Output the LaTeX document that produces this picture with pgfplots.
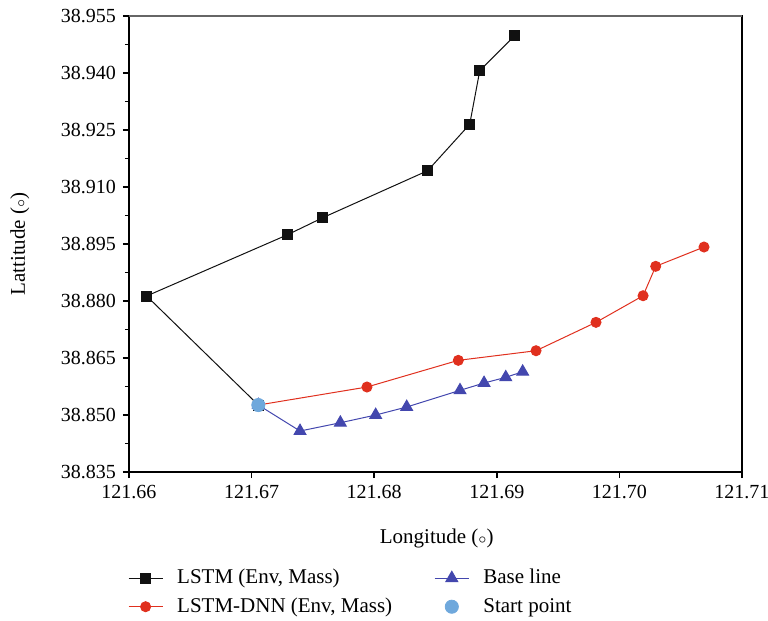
\documentclass[border=0pt]{standalone}
\usepackage{fontspec}
\setmainfont{Liberation Serif}
\usepackage{pgfplots}
\pgfplotsset{compat=1.18}

\definecolor{lstmblack}{HTML}{111111}
\definecolor{dnnred}{HTML}{E0301E}
\definecolor{baseblue}{HTML}{4347AE}
\definecolor{startblue}{HTML}{6FA8DC}

\begin{document}
\begin{tikzpicture}
    \begin{axis}[
        scale only axis,
        width=306.5pt, height=228pt,
        clip=false,
        font=\fontsize{10.5}{12}\selectfont,
        xmin=121.66, xmax=121.71,
        ymin=38.835, ymax=38.955,
        xtick={121.66,121.67,...,121.71},
        ytick={38.835,38.850,...,38.955},
        minor x tick num=1,
        minor y tick num=1,
        tick align=outside,
        major tick length=3pt,
        minor tick length=2pt,
        xtick pos=bottom, ytick pos=left,
        axis line style={black, line width=0.8pt},
        tick style={black, line width=0.7pt},
        ticklabel style={font=\fontsize{10}{12}\selectfont},
        /pgf/number format/assume math mode=true,
        xticklabel style={/pgf/number format/.cd, fixed, fixed zerofill, precision=2},
        yticklabel style={/pgf/number format/.cd, fixed, fixed zerofill, precision=3},
        scaled ticks=false,
        xlabel={Longitude ($\scriptstyle\circ$)},
        ylabel={Lattitude ($\scriptstyle\circ$)},
        xlabel style={at={(axis description cs:0.502,-0.145)}, anchor=center},
        ylabel style={at={(axis description cs:-0.178,0.5)}, anchor=center},
        legend columns=2,
        legend cell align=left,
        legend style={
            draw=none, fill=none,
            at={(axis description cs:-0.012,-0.195)}, anchor=north west,
            font=\fontsize{10.5}{12}\selectfont,
            row sep=1.5pt,
            /tikz/every odd column/.append style={column sep=5pt},
            /tikz/every even column/.append style={column sep=19pt},
        },
    ]
        \addplot[color=lstmblack, line width=0.5pt, mark=square*, mark size=2.5pt,
                 mark options={solid, fill=lstmblack}]
            coordinates {
                (121.67055,38.85263)
                (121.66144,38.88132)
                (121.67294,38.89745)
                (121.67580,38.90192)
                (121.68436,38.91429)
                (121.68779,38.92650)
                (121.68861,38.94061)
                (121.69146,38.94982)
            };
        \addlegendentry{LSTM (Env, Mass)}
        \addplot[color=baseblue, line width=0.5pt, mark=triangle*, mark size=3.4pt,
                 mark options={solid, fill=baseblue}]
            coordinates {
                (121.67055,38.85263)
                (121.67395,38.84579)
                (121.67724,38.84797)
                (121.68012,38.85000)
                (121.68265,38.85211)
                (121.68700,38.85650)
                (121.68896,38.85842)
                (121.69073,38.85992)
                (121.69211,38.86139)
            };
        \addlegendentry{Base line}
        \addplot[color=dnnred, line width=0.5pt, mark=*, mark size=2.5pt,
                 mark options={solid, fill=dnnred}]
            coordinates {
                (121.67055,38.85263)
                (121.67941,38.85737)
                (121.68686,38.86439)
                (121.69320,38.86692)
                (121.69809,38.87439)
                (121.70193,38.88139)
                (121.70296,38.88913)
                (121.70690,38.89421)
            };
        \addlegendentry{LSTM-DNN (Env, Mass)}
        \addplot[only marks, mark=*, mark size=3.3pt, color=startblue,
                 mark options={fill=startblue, draw=startblue}]
            coordinates {(121.67055,38.85263)};
        \addlegendentry{Start point}
        % grey top frame line, as in the original
        \draw[gray!80!black, line width=1.2pt] (rel axis cs:0,1) -- (rel axis cs:1,1);
        % corners of the page, in the reference's proportions
        \coordinate (bbsw) at (rel axis cs:-0.2104,-0.3246);
        \coordinate (bbne) at (rel axis cs:1.0424,1.0351);
    \end{axis}
    \pgfresetboundingbox
    \path (bbsw) rectangle (bbne);
\end{tikzpicture}
\end{document}
